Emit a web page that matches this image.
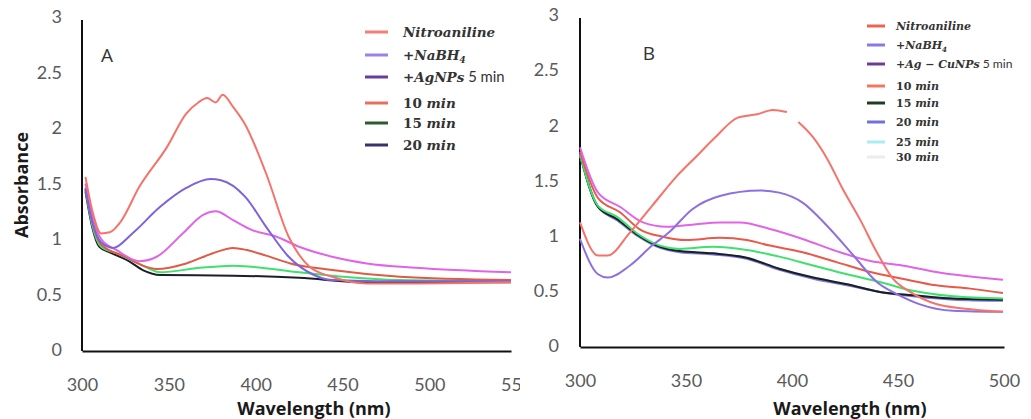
<!DOCTYPE html>
<html>
<head>
<meta charset="utf-8">
<script src="https://cdn.jsdelivr.net/npm/d3@7"></script>
<style>
  body { margin: 0; background: #fff; }
  .tick text { font-family: Lato, sans-serif; font-size: 18px; fill: #5a5a5a; }
  .axis-title { font-family: "Open Sans", sans-serif; font-weight: bold; font-size: 18px; fill: #1a1a1a; }
  .panel-letter { font-family: "Open Sans", sans-serif; font-size: 19px; fill: #333; }
  .legend-text { font-family: "DejaVu Serif", serif; font-weight: bold; fill: #333; }
</style>
</head>
<body>
<svg id="chart" width="1031" height="419"></svg>
<script>
const d3s = d3;

// shared tick labels
const yTicks = [0, 0.5, 1, 1.5, 2, 2.5, 3];
const xTicksA = [300, 350, 400, 450, 500, 550];
const xTicksB = [300, 350, 400, 450, 500];

// panel A : [wavelength nm, absorbance]
const nitroA = [[302, 1.56], [306, 1.25], [311, 1.05], [316, 1.06], [322, 1.15], [333, 1.47], [349, 1.83],
  [360, 2.13], [367, 2.23], [372, 2.27], [377, 2.23], [381, 2.30], [387, 2.19], [394, 2.03], [406, 1.59],
  [419, 1.02], [431, 0.75], [444, 0.66], [464, 0.60], [492, 0.60], [547, 0.61]];
const nabh4A = [[302, 1.45], [306, 1.15], [311, 0.97], [318, 0.92], [329, 1.05], [345, 1.29], [360, 1.46],
  [374, 1.54], [380, 1.53], [394, 1.38], [406, 1.11], [419, 0.84], [433, 0.68], [444, 0.63], [470, 0.62],
  [547, 0.62]];
const agnp5A = [[302, 1.50], [306, 1.20], [311, 1.00], [320, 0.90], [333, 0.80], [343, 0.84], [358, 1.05],
  [370, 1.22], [377, 1.25], [387, 1.17], [398, 1.08], [412, 1.02], [425, 0.93], [444, 0.84], [464, 0.78],
  [492, 0.74], [547, 0.70]];
const min10A = [[302, 1.46], [306, 1.15], [311, 0.95], [325, 0.84], [335, 0.76], [343, 0.73], [360, 0.78],
  [375, 0.87], [387, 0.92], [395, 0.90], [406, 0.85], [420, 0.78], [444, 0.72], [483, 0.66], [547, 0.63]];
const min15A = [[302, 1.45], [306, 1.12], [311, 0.93], [320, 0.87], [335, 0.76], [345, 0.70], [368, 0.74],
  [387, 0.76], [398, 0.75], [425, 0.70], [444, 0.67], [483, 0.63], [547, 0.62]];
const min20A = [[302, 1.43], [306, 1.10], [310, 0.93], [316, 0.88], [326, 0.81], [335, 0.72], [345, 0.675],
  [387, 0.67], [425, 0.65], [464, 0.61], [547, 0.61]];

// panel B
const nitroB = [[300, 1.12], [308.5, 0.82], [313, 0.82], [323.6, 1.03], [334, 1.27], [345.7, 1.54], [355, 1.72],
  [363.7, 1.89], [374.5, 2.07], [383.5, 2.10], [391, 2.14], [397.6, 2.12], [400, null], [403, 2.03],
  [410, 1.89], [416.5, 1.70], [424, 1.42], [432, 1.15], [440, 0.85], [447.6, 0.61], [455.7, 0.49],
  [468, 0.38], [480.7, 0.34], [499.5, 0.31]];
const nabh4B = [[300, 0.97], [308.5, 0.65], [313, 0.62], [323.6, 0.73], [334, 0.91], [342, 1.03], [353, 1.24],
  [366, 1.36], [385, 1.41], [394, 1.39], [405, 1.30], [416.5, 1.09], [429, 0.82], [440, 0.58], [449.5, 0.47],
  [460, 0.38], [476, 0.32], [499.5, 0.31]];
const agcu5B = [[300, 1.80], [308.5, 1.39], [319, 1.26], [329.7, 1.12], [341, 1.08], [353, 1.10], [366, 1.12],
  [375.5, 1.12], [389.6, 1.06], [405, 0.97], [421, 0.86], [437, 0.77], [452, 0.73], [468, 0.67], [499.5, 0.60]];
const min10B = [[300, 1.76], [308.5, 1.34], [319, 1.21], [328, 1.06], [339, 0.99], [350, 0.96], [366, 0.98],
  [378.6, 0.96], [389.6, 0.91], [405, 0.85], [421, 0.76], [437, 0.67], [452, 0.61], [468, 0.55], [484, 0.52],
  [499.5, 0.48]];
const min15B = [[300, 1.74], [308.5, 1.27], [317.5, 1.17], [327, 1.02], [337.7, 0.91], [347, 0.88], [362.7, 0.90],
  [378.6, 0.87], [394, 0.81], [410, 0.73], [426, 0.65], [441.5, 0.58], [457, 0.50], [476, 0.45], [499.5, 0.43]];
const min20B = [[300, 1.73], [308.5, 1.26], [317.5, 1.14], [327, 1.00], [337.7, 0.89], [347, 0.85], [362.7, 0.83],
  [378.6, 0.79], [394, 0.69], [410, 0.61], [426, 0.55], [441.5, 0.49], [457, 0.45], [476, 0.42], [499.5, 0.41]];
const min25B = [[300, 1.73], [308.5, 1.26], [317.5, 1.14], [327, 1.00], [337.7, 0.90], [347, 0.86], [362.7, 0.84],
  [378.6, 0.80], [394, 0.70], [410, 0.62], [426, 0.56], [441.5, 0.49], [457, 0.46], [476, 0.43], [499.5, 0.42]];
const min30B = [[300, 1.74], [308.5, 1.26], [317.5, 1.15], [327, 1.01], [337.7, 0.90], [347, 0.86], [362.7, 0.84],
  [378.6, 0.80], [394, 0.70], [410, 0.62], [426, 0.56], [441.5, 0.49], [457, 0.46], [476, 0.43], [499.5, 0.42]];

// legend labels, split in runs: i = italic, s = sans upright, sub = subscript, n = serif upright
const labelsA = [
  [['Nitroaniline', 'i']],
  [['+NaBH', 'i'], ['4', 'sub']],
  [['+AgNPs', 'i'], [' 5 min', 's']],
  [['10 ', 'n'], ['min', 'i']],
  [['15 ', 'n'], ['min', 'i']],
  [['20 ', 'n'], ['min', 'i']],
];
const labelsB = [
  [['Nitroaniline', 'i']],
  [['+NaBH', 'i'], ['4', 'sub']],
  [['+Ag \u2212 CuNPs', 'i'], [' 5 min', 's']],
  [['10 ', 'n'], ['min', 'i']],
  [['15 ', 'n'], ['min', 'i']],
  [['20 ', 'n'], ['min', 'i']],
  [['25 ', 'n'], ['min', 'i']],
  [['30 ', 'n'], ['min', 'i']],
];

const svg = d3s.select('#chart');
svg.append('rect').attr('width', 1031).attr('height', 419).attr('fill', '#fff');

/* Draws one spectrum panel
   Params: @cfg holds the frame, the series, line colours and legend setup
*/
function DrawPanel(cfg) {
  const g = svg.append('g');
  if (cfg.clipId) {
    svg.append('clipPath').attr('id', cfg.clipId)
      .append('rect').attr('x', 0).attr('y', 0).attr('width', cfg.clipW).attr('height', 419);
    g.attr('clip-path', `url(#${cfg.clipId})`);
  }
  const x = d3s.scaleLinear().domain(cfg.xDomain).range([cfg.left, cfg.right]);
  const y = d3s.scaleLinear().domain([0, 3]).range([cfg.bottom, cfg.top]);

  const xAxis = g.append('g')
    .attr('transform', `translate(0,${cfg.bottom + 1})`)
    .call(d3s.axisBottom(x).tickValues(cfg.xTicks).tickSize(0).tickPadding(27)
      .tickFormat(d3s.format('d')));
  const yAxis = g.append('g')
    .attr('transform', `translate(${cfg.left},0)`)
    .call(d3s.axisLeft(y).tickValues(yTicks).tickSize(0).tickPadding(cfg.yPad)
      .tickFormat((d) => String(d)));
  xAxis.select('.domain').attr('stroke', '#111').attr('stroke-width', 2);
  yAxis.select('.domain').attr('stroke', '#111').attr('stroke-width', 2)
    .attr('d', `M0,${cfg.bottom + 1}V${cfg.top + 3}`);

  const line = d3s.line()
    .defined((d) => d[1] !== null)
    .x((d) => x(d[0]))
    .y((d) => y(d[1]))
    .curve(d3s.curveMonotoneX);

  cfg.series.forEach((s, i) => {
    g.append('path')
      .datum(s)
      .attr('fill', 'none')
      .attr('stroke', cfg.lineColors[i])
      .attr('stroke-width', 2)
      .attr('stroke-linejoin', 'round')
      .attr('d', line);
  });

  g.append('text')
    .attr('class', 'panel-letter')
    .attr('x', cfg.letterX).attr('y', cfg.letterY)
    .attr('text-anchor', 'middle')
    .text(cfg.letter);

  g.append('text')
    .attr('class', 'axis-title')
    .attr('x', cfg.titleX).attr('y', cfg.titleY)
    .attr('text-anchor', 'middle')
    .text('Wavelength (nm)');

  // legend
  const leg = g.append('g');
  cfg.labels.forEach((runs, i) => {
    const ly = cfg.legendRows[i];
    leg.append('line')
      .attr('x1', cfg.legX1).attr('x2', cfg.legX2)
      .attr('y1', ly).attr('y2', ly)
      .attr('stroke', cfg.keyColors[i])
      .attr('stroke-width', 3);
    const t = leg.append('text')
      .attr('class', 'legend-text')
      .attr('x', cfg.legTextX)
      .attr('y', ly + cfg.legFont * 0.36)
      .style('font-size', `${cfg.legFont}px`);
    runs.forEach(([txt, kind]) => {
      const ts = t.append('tspan').text(txt);
      if (kind === 'i') ts.style('font-style', 'italic');
      if (kind === 's') {
        ts.style('font-family', 'Lato, sans-serif').style('font-weight', 'normal')
          .style('font-size', `${cfg.legFont * 1.1}px`);
      }
      if (kind === 'sub') {
        ts.style('font-style', 'italic').style('font-size', `${cfg.legFont * 0.65}px`)
          .attr('dy', cfg.legFont * 0.25);
      }
    });
  });
}

DrawPanel({
  clipId: 'clip-a',
  clipW: 520,
  left: 82,
  right: 511,
  top: 17,
  bottom: 350,
  xDomain: [300, 547],
  xTicks: xTicksA,
  yPad: 20,
  series: [min20A, min15A, min10A, agnp5A, nabh4A, nitroA],
  lineColors: ['#1e1e2a', '#3fe06e', '#e05a45', '#e064e6', '#7d63da', '#f4736a'],
  letter: 'A',
  letterX: 107,
  letterY: 62,
  titleX: 314,
  titleY: 415,
  labels: labelsA,
  legendRows: [32, 55, 77, 103, 123, 145],
  keyColors: ['#f47d75', '#9a80e8', '#6a3c9c', '#e8705a', '#2e5a2e', '#3a3070'],
  legX1: 365,
  legX2: 388,
  legTextX: 403,
  legFont: 13.5,
});

DrawPanel({
  left: 580,
  right: 1004,
  top: 15,
  bottom: 346,
  xDomain: [300, 500],
  xTicks: xTicksB,
  yPad: 21,
  series: [min25B, min20B, min30B, min15B, min10B, agcu5B, nabh4B, nitroB],
  lineColors: ['#8fe3ef', '#7a7ae8', '#1e1e1e', '#3fe06e', '#e85a48', '#e064e6', '#8c6fe0', '#f4736a'],
  letter: 'B',
  letterX: 649,
  letterY: 60,
  titleX: 850,
  titleY: 415,
  labels: labelsB,
  legendRows: [26, 45, 64, 86, 103, 122, 142, 157],
  keyColors: ['#f06050', '#8a78e8', '#6a3c9c', '#f07860', '#203c20', '#7070e0', '#a8ecf4', '#ececec'],
  legX1: 867,
  legX2: 885,
  legTextX: 896,
  legFont: 11,
});

// y axis title, only on the left panel
svg.append('text')
  .attr('class', 'axis-title')
  .attr('transform', 'translate(28,185) rotate(-90)')
  .attr('text-anchor', 'middle')
  .text('Absorbance');
</script>
</body>
</html>
